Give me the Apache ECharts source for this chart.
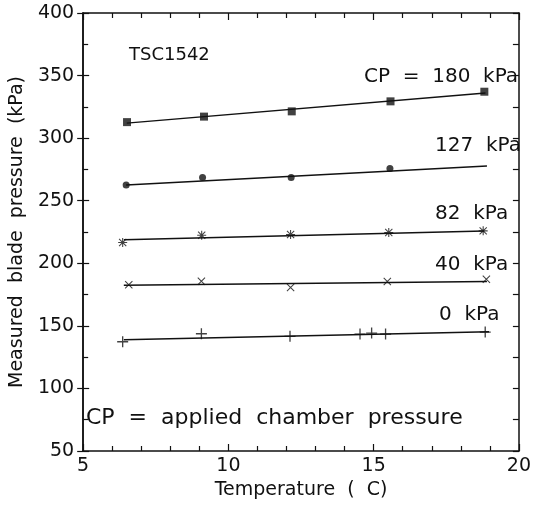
<!DOCTYPE html>
<html>
<head>
<meta charset="utf-8">
<script src="https://cdn.jsdelivr.net/npm/echarts@6/dist/echarts.min.js"></script>
<style>
html,body{margin:0;padding:0;background:#fff;}
#chart{width:534px;height:505px;}
</style>
</head>
<body>
<div id="chart"></div>
<script>
// ---- data ----
const xTicks = [5, 10, 15, 20];
const yTicks = [50, 100, 150, 200, 250, 300, 350, 400];

const cp180 = [[6.51, 312.8], [9.16, 317.2], [12.18, 321.4], [15.58, 329.4], [18.81, 337.1]];
const cp127 = [[6.48, 262.6], [9.11, 268.5], [12.16, 268.5], [15.56, 275.7]];
const cp82  = [[6.36, 216.6], [9.08, 222.4], [12.14, 223.0], [15.52, 224.6], [18.77, 225.9]];
const cp40  = [[6.57, 182.8], [9.07, 185.7], [12.14, 180.7], [15.47, 185.5], [18.88, 187.3]];
const cp0   = [[6.36, 137.3], [9.07, 143.7], [12.12, 141.6], [14.53, 143.4], [14.93, 144.2], [15.41, 143.4], [18.84, 145.0]];

const fit180 = [[6.5, 312.0], [18.85, 336.0]];
const fit127 = [[6.48, 262.5], [18.9, 277.7]];
const fit82  = [[6.4, 218.8], [18.8, 225.8]];
const fit40  = [[6.4, 182.5], [18.9, 185.5]];
const fit0   = [[6.4, 138.9], [18.97, 145.2]];

const seriesLabels = ['CP  =  180  kPa', '127  kPa', '82  kPa', '40  kPa', '0  kPa'];
const specimen = 'TSC1542';
const note = 'CP  =  applied  chamber  pressure';
const xName = 'Temperature  (  C)';
const yName = 'Measured  blade  pressure  (kPa)';

// ---- chart ----
const FONT = 'DejaVu Sans';
const BLACK = '#111';
const plusPath = 'path://M4.4,0H5.6V10H4.4Z M0,4.4H10V5.6H0Z';
const crossPath = 'path://M0.6,1.4L1.4,0.6L9.4,8.6L8.6,9.4Z M8.6,0.6L9.4,1.4L1.4,9.4L0.6,8.6Z';
const starPath = 'path://M4.4,0H5.6V10H4.4Z M0,4.4H10V5.6H0Z M0.6,1.4L1.4,0.6L9.4,8.6L8.6,9.4Z M8.6,0.6L9.4,1.4L1.4,9.4L0.6,8.6Z';

const chart = echarts.init(document.getElementById('chart'), null, {renderer: 'canvas'});

const axisLine = {show: true, lineStyle: {color: BLACK, width: 1.5}};
const xBase = {type: 'value', min: xTicks[0], max: xTicks[xTicks.length - 1], interval: 5, splitLine: {show: false}, axisLine: axisLine};
const yBase = {type: 'value', min: yTicks[0], max: yTicks[yTicks.length - 1], interval: 50, splitLine: {show: false}, axisLine: axisLine};

function scatter(data, symbol, size) {
  return {type: 'scatter', data: data, symbol: symbol, symbolSize: size,
    itemStyle: {color: BLACK}, z: 5, silent: true};
}
function fit(data) {
  return {type: 'line', data: data, symbol: 'none', lineStyle: {color: BLACK, width: 1.5}, z: 4, silent: true};
}

const labelStyle = {fill: BLACK, font: '20px "' + FONT + '"'};

chart.setOption({
  animation: false,
  backgroundColor: '#fff',
  grid: {left: 79, right: 12, top: 13, bottom: 53},
  xAxis: [
    Object.assign({}, xBase, {position: 'bottom',
      name: xName, nameLocation: 'middle', nameGap: 30,
      nameTextStyle: {color: BLACK, fontFamily: FONT, fontSize: 19},
      axisLabel: {color: BLACK, fontFamily: FONT, fontSize: 19, margin: 6},
      axisTick: {show: true, inside: true, length: 7, lineStyle: {color: BLACK, width: 1.2}},
      minorTick: {show: true, splitNumber: 5, length: 5, lineStyle: {color: BLACK, width: 1.2}}}),
    Object.assign({}, xBase, {position: 'top',
      axisLabel: {show: false},
      axisTick: {show: true, inside: true, length: 7, lineStyle: {color: BLACK, width: 1.2}},
      minorTick: {show: true, splitNumber: 5, length: 5, lineStyle: {color: BLACK, width: 1.2}}})
  ],
  yAxis: [
    Object.assign({}, yBase, {position: 'left',
      name: yName, nameLocation: 'middle', nameGap: 46, nameRotate: 90,
      nameTextStyle: {color: BLACK, fontFamily: FONT, fontSize: 19},
      axisLabel: {color: BLACK, fontFamily: FONT, fontSize: 19, margin: 9},
      axisTick: {show: true, inside: false, length: 6, lineStyle: {color: BLACK, width: 1.2}}}),
    Object.assign({}, yBase, {position: 'left',
      axisLabel: {show: false},
      axisTick: {show: true, inside: true, length: 6, lineStyle: {color: BLACK, width: 1.2}},
      minorTick: {show: true, splitNumber: 2, length: 5, lineStyle: {color: BLACK, width: 1.2}}}),
    Object.assign({}, yBase, {position: 'right',
      axisLabel: {show: false},
      axisTick: {show: true, inside: true, length: 6, lineStyle: {color: BLACK, width: 1.2}},
      minorTick: {show: true, splitNumber: 2, length: 6, lineStyle: {color: BLACK, width: 1.2}}})
  ],
  series: [
    fit(fit180), fit(fit127), fit(fit82), fit(fit40), fit(fit0),
    scatter(cp180, 'rect', 8),
    scatter(cp127, 'circle', 7),
    scatter(cp82, starPath, 9),
    scatter(cp40, crossPath, 8),
    scatter(cp0, plusPath, 11)
  ],
  graphic: [
    {type: 'text', left: 129, top: 46, style: {text: specimen, fill: BLACK, font: '18px "' + FONT + '"'}},
    {type: 'text', left: 364, top: 67, style: Object.assign({text: seriesLabels[0]}, labelStyle)},
    {type: 'text', left: 435, top: 136, style: Object.assign({text: seriesLabels[1]}, labelStyle)},
    {type: 'text', left: 435, top: 204, style: Object.assign({text: seriesLabels[2]}, labelStyle)},
    {type: 'text', left: 435, top: 255, style: Object.assign({text: seriesLabels[3]}, labelStyle)},
    {type: 'text', left: 439, top: 305, style: Object.assign({text: seriesLabels[4]}, labelStyle)},
    {type: 'text', left: 86, top: 407, style: {text: note, fill: BLACK, font: '22px "' + FONT + '"'}}
  ]
});
</script>
</body>
</html>
